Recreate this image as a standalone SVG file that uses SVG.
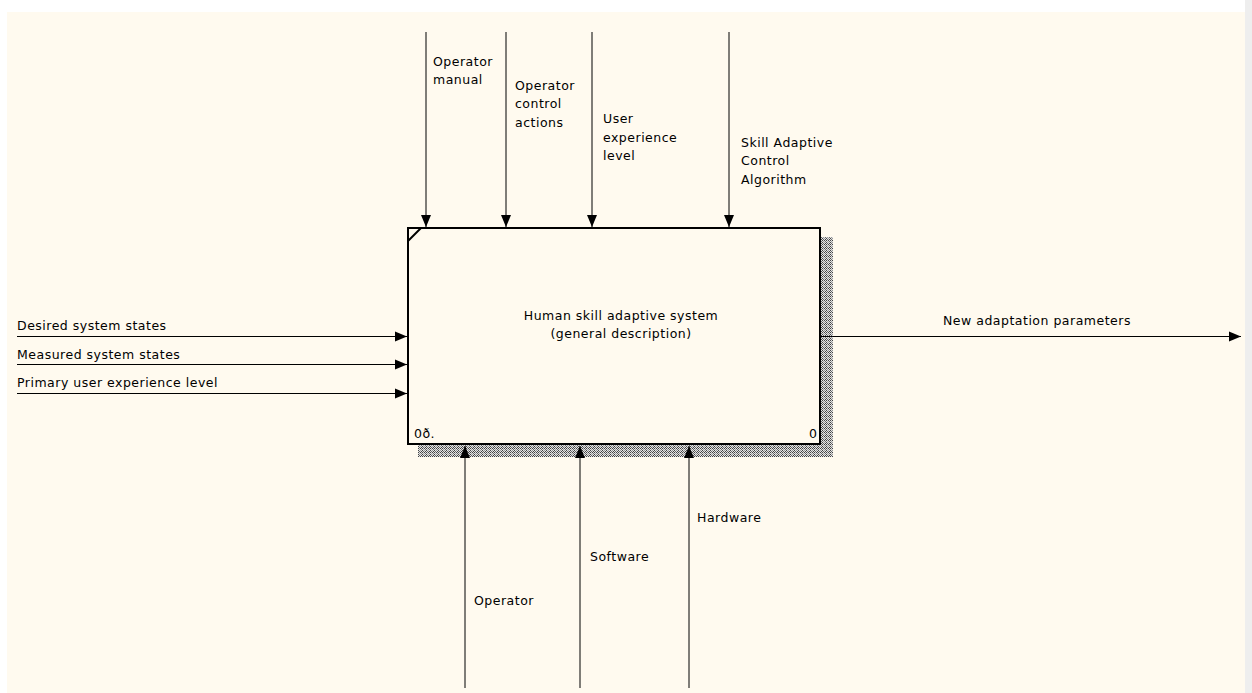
<svg xmlns="http://www.w3.org/2000/svg" width="1252" height="693" viewBox="0 0 1252 693">
  <style>
    .lbl { font-family: "DejaVu Sans", "Liberation Sans", sans-serif; font-size: 12.5px; letter-spacing: 0.5px; fill: #000; }
    .wire { stroke: #000; stroke-width: 1; fill: none; }
  </style>
  <defs>
    <marker id="arrow" viewBox="0 0 12 12" refX="12" refY="6" markerWidth="12" markerHeight="12" markerUnits="userSpaceOnUse" orient="auto">
      <path d="M0,1 L12,6 L0,11 Z" fill="#000"/>
    </marker>
    <pattern id="hatch" width="4" height="4" patternUnits="userSpaceOnUse">
      <rect width="4" height="4" fill="#e4e4e4"/>
      <rect x="0" y="0" width="1" height="1" fill="#444"/>
      <rect x="2" y="0" width="1" height="1" fill="#444"/>
      <rect x="1" y="1" width="1" height="1" fill="#666"/>
      <rect x="3" y="1" width="1" height="1" fill="#999"/>
      <rect x="0" y="2" width="1" height="1" fill="#999"/>
      <rect x="2" y="2" width="1" height="1" fill="#444"/>
      <rect x="3" y="3" width="1" height="1" fill="#666"/>
      <rect x="1" y="3" width="1" height="1" fill="#444"/>
    </pattern>
  </defs>

  <!-- canvas -->
  <rect x="0" y="0" width="1252" height="693" fill="#ffffff"/>
  <rect x="7" y="12" width="1238" height="681" fill="#fffaef"/>
  <rect x="1245" y="0" width="7" height="693" fill="#eeeeee"/>

  <!-- activity box -->
  <g id="node-a0">
    <rect x="821" y="237" width="12" height="220" fill="url(#hatch)"/>
    <rect x="418" y="445" width="415" height="12" fill="url(#hatch)"/>
    <rect x="408" y="228" width="412" height="216" fill="#fffaef" stroke="#000" stroke-width="2"/>
    <line x1="408" y1="241" x2="421" y2="228" stroke="#000" stroke-width="2"/>
    <text class="lbl" x="621" y="320" text-anchor="middle">Human skill adaptive system</text>
    <text class="lbl" x="621" y="338" text-anchor="middle">(general description)</text>
    <text class="lbl" x="414" y="438">0ð.</text>
    <text class="lbl" x="809" y="438">0</text>
  </g>

  <!-- arrows -->
  <g id="connectors">
    <!-- controls -->
    <line class="wire" x1="426" y1="32" x2="426" y2="227" marker-end="url(#arrow)"/>
    <line class="wire" x1="506" y1="32" x2="506" y2="227" marker-end="url(#arrow)"/>
    <line class="wire" x1="592" y1="32" x2="592" y2="227" marker-end="url(#arrow)"/>
    <line class="wire" x1="729" y1="32" x2="729" y2="227" marker-end="url(#arrow)"/>
    <!-- inputs -->
    <line class="wire" x1="17" y1="336.5" x2="407" y2="336.5" marker-end="url(#arrow)"/>
    <line class="wire" x1="17" y1="364.5" x2="407" y2="364.5" marker-end="url(#arrow)"/>
    <line class="wire" x1="17" y1="393.5" x2="407" y2="393.5" marker-end="url(#arrow)"/>
    <!-- output -->
    <line class="wire" x1="821" y1="336.5" x2="1241" y2="336.5" marker-end="url(#arrow)"/>
    <!-- mechanisms -->
    <line class="wire" x1="465" y1="688" x2="465" y2="446" marker-end="url(#arrow)"/>
    <line class="wire" x1="580" y1="688" x2="580" y2="446" marker-end="url(#arrow)"/>
    <line class="wire" x1="689" y1="688" x2="689" y2="446" marker-end="url(#arrow)"/>
  </g>

  <!-- arrow labels -->
  <g id="labels">
    <text class="lbl" x="433" y="66">Operator</text>
    <text class="lbl" x="433" y="84">manual</text>
    <text class="lbl" x="515" y="90">Operator</text>
    <text class="lbl" x="515" y="108">control</text>
    <text class="lbl" x="515" y="127">actions</text>
    <text class="lbl" x="603" y="123">User</text>
    <text class="lbl" x="603" y="142">experience</text>
    <text class="lbl" x="603" y="160">level</text>
    <text class="lbl" x="741" y="147">Skill Adaptive</text>
    <text class="lbl" x="741" y="165">Control</text>
    <text class="lbl" x="741" y="184">Algorithm</text>

    <text class="lbl" x="17" y="330">Desired system states</text>
    <text class="lbl" x="17" y="359">Measured system states</text>
    <text class="lbl" x="17" y="387">Primary user experience level</text>

    <text class="lbl" x="943" y="325">New adaptation parameters</text>

    <text class="lbl" x="474" y="605">Operator</text>
    <text class="lbl" x="590" y="561">Software</text>
    <text class="lbl" x="697" y="522">Hardware</text>
  </g>
</svg>
